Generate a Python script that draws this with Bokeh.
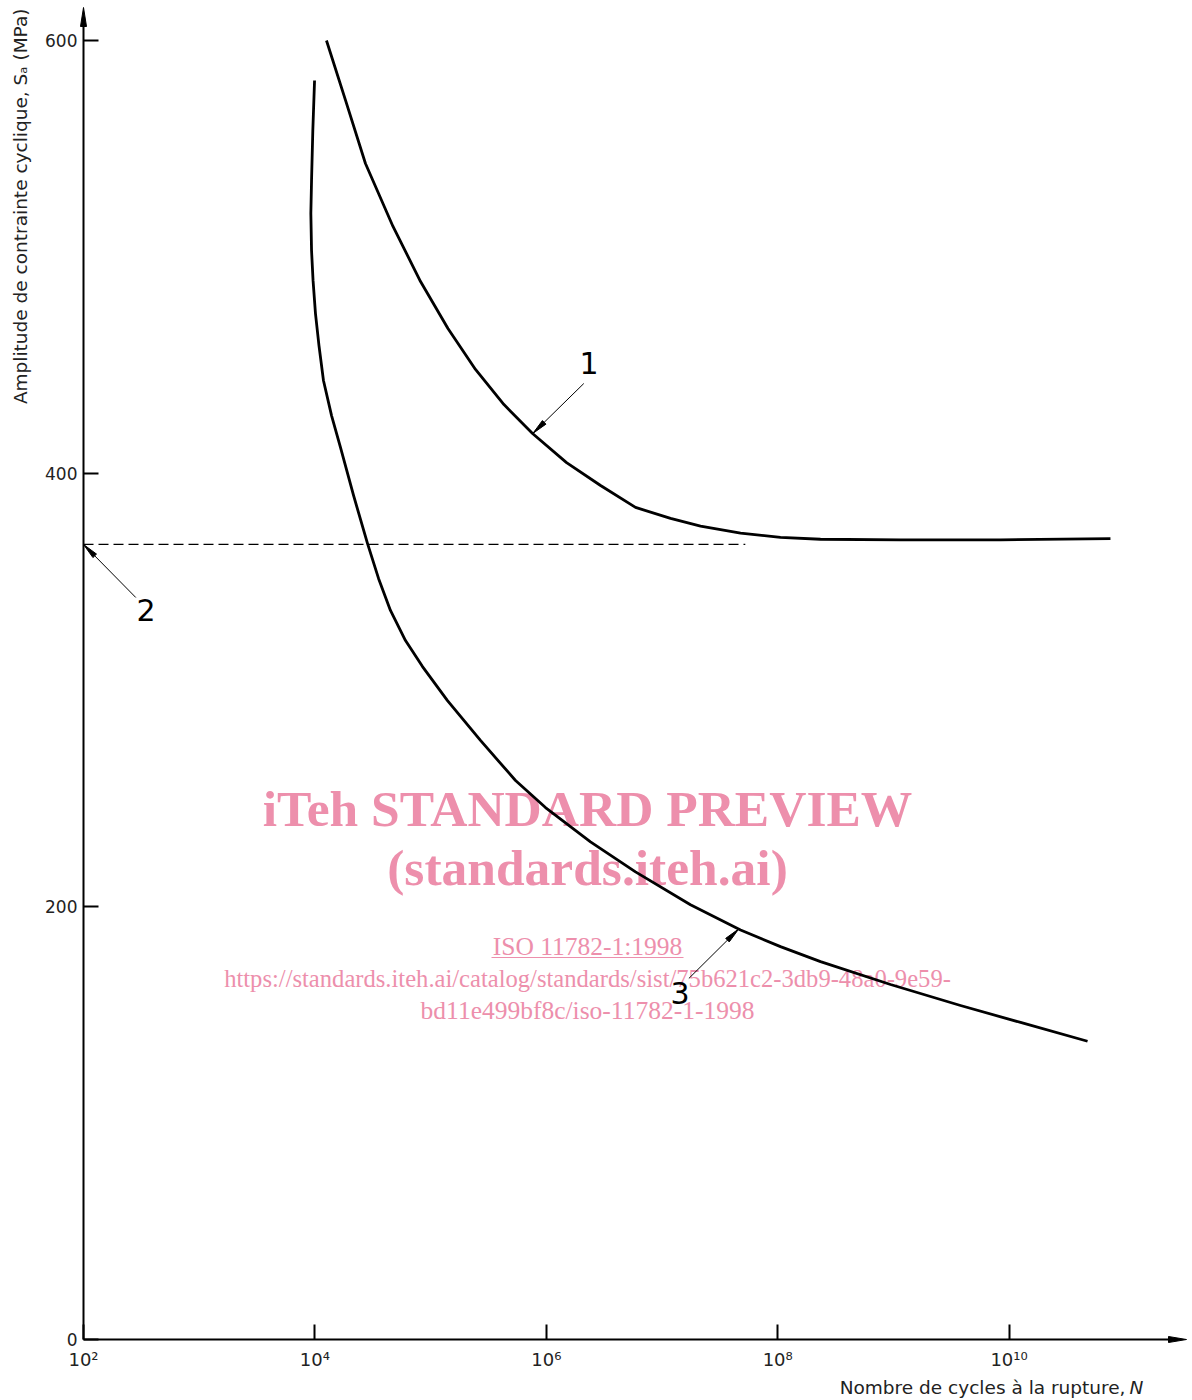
import math
from bokeh.plotting import figure
from bokeh.models import Range1d, FixedTicker, Label
from bokeh.embed import file_html
from bokeh.resources import INLINE

# ---------------- data ----------------
# curve 1 (upper S-N curve): log10(N) and stress amplitude Sa (MPa)
curve1_log_n = [4.100, 4.265, 4.437, 4.675, 4.913, 5.150, 5.388, 5.634, 5.881, 6.175,
                6.469, 6.771, 7.074, 7.333, 7.679, 8.024, 8.370, 9.061, 9.926, 10.876]
curve1_sa = [599.8, 572.1, 543.0, 513.9, 488.5, 466.8, 447.9, 431.7, 418.3, 404.9,
             394.3, 384.2, 379.1, 375.6, 372.3, 370.4, 369.5, 369.2, 369.2, 369.8]

# curve 3 (lower S-N curve)
curve3_log_n = [3.997, 3.982, 3.971, 3.965, 3.971, 3.984, 4.005, 4.035, 4.074, 4.144, 4.221,
                4.334, 4.455, 4.550, 4.653, 4.783, 4.930, 5.146, 5.431, 5.734, 5.993, 6.382,
                6.771, 7.246, 7.679, 8.024, 8.370, 8.975, 9.580, 10.099, 10.678]
curve3_sa = [581.3, 558.2, 535.1, 519.9, 502.8, 489.0, 473.7, 459.0, 442.8, 426.6, 411.9,
             389.7, 367.5, 351.4, 336.6, 322.7, 310.7, 295.0, 276.6, 258.1, 245.6, 229.8,
             215.9, 200.7, 189.1, 181.4, 174.5, 163.9, 154.2, 146.4, 137.7]

# 2: dashed level (endurance limit)
limit_log_n = [2.0, 7.72]
limit_sa = [367.1, 367.1]

# axis ticks
x_tick_exp = [2, 4, 6, 8, 10]
x_tick_labels = ["10²", "10⁴", "10⁶", "10⁸", "10¹⁰"]
y_ticks = [0, 200, 400, 600]

# callouts: label, label position, leader tail, leader tip  (log10 N, Sa)
callout_text = ["1", "2", "3"]
callout_pos = [(6.37, 451.0), (2.54, 336.6), (7.155, 159.8)]
callout_tail = [(6.324, 441.4), (2.452, 342.6), (7.232, 166.7)]
callout_tip = [(5.883, 418.3), (2.0, 367.1), (7.664, 189.6)]

# ---------------- page geometry ----------------
PX_X0, PX_Y0 = 83.0, 1339.0     # canvas position of (1e2, 0)
PX_DEC = 115.7                  # px per decade
PX_UNIT = 2.1658                # px per MPa
W, H = 1192, 1400


def gx(px):
    return 10 ** (2 + (px - PX_X0) / PX_DEC)


def gy(py):
    return (PX_Y0 - py) / PX_UNIT


def to_px(lx, s):
    return PX_X0 + (lx - 2) * PX_DEC, PX_Y0 - s * PX_UNIT


def head(tip_px, tail_px, length, width):
    tx, ty = tip_px
    sx, sy = tail_px
    dx, dy = sx - tx, sy - ty
    d = math.hypot(dx, dy)
    ux, uy = dx / d, dy / d
    bx, by = tx + ux * length, ty + uy * length
    nx, ny = -uy, ux
    pts = [(tx, ty), (bx + nx * width / 2, by + ny * width / 2), (bx - nx * width / 2, by - ny * width / 2)]
    return [gx(p[0]) for p in pts], [gy(p[1]) for p in pts]


p = figure(width=W, height=H, x_axis_type="log",
           x_range=Range1d(gx(0), gx(W)), y_range=Range1d(gy(H), gy(0)),
           output_backend="svg", toolbar_location=None,
           min_border=0, min_border_left=0, min_border_right=0,
           min_border_top=0, min_border_bottom=0)
p.outline_line_color = None
p.grid.visible = False
p.background_fill_color = "white"
p.border_fill_color = "white"

AX_FONT = "DejaVu Sans"
TXT = "#222222"

# axes at fixed location
p.xaxis.fixed_location = 0
p.yaxis.fixed_location = 100
p.xaxis.bounds = (100, gx(1172))
p.yaxis.bounds = (0, gy(22))
for ax in (p.xaxis, p.yaxis):
    ax.axis_line_color = "black"
    ax.axis_line_width = 2
    ax.major_tick_line_color = "black"
    ax.major_tick_line_width = 2
    ax.major_tick_in = 15
    ax.major_tick_out = 0
    ax.minor_tick_line_color = None
    ax.major_label_text_font = AX_FONT
    ax.major_label_text_color = TXT
p.xaxis.ticker = FixedTicker(ticks=[10.0 ** e for e in x_tick_exp])
p.xaxis.major_label_overrides = {10.0 ** e: lab for e, lab in zip(x_tick_exp, x_tick_labels)}
p.xaxis.major_label_text_font_size = "18px"
p.xaxis.major_label_standoff = 9
p.yaxis.ticker = FixedTicker(ticks=y_ticks)
p.yaxis.major_label_text_font_size = "17px"
p.yaxis.major_label_standoff = 6

# axis arrowheads
hx, hy = head((PX_X0, 7), (PX_X0, 100), 19, 6)
p.patch(hx, hy, fill_color="black", line_color="black", line_width=1)
hx, hy = head((1186, PX_Y0), (1000, PX_Y0), 18, 6)
p.patch(hx, hy, fill_color="black", line_color="black", line_width=1)

# watermark (under the curves)
PINK = "#ed8fac"
wm = [
    ("iTeh STANDARD PREVIEW", 587, 808, "51.5px", "bold"),
    ("(standards.iteh.ai)", 587, 867, "51.5px", "bold"),
    ("ISO 11782-1:1998", 587, 946, "25.5px", "normal"),
    ("https://standards.iteh.ai/catalog/standards/sist/75b621c2-3db9-48a0-9e59-", 587, 978, "24.6px", "normal"),
    ("bd11e499bf8c/iso-11782-1-1998", 587, 1010, "25.5px", "normal"),
]
for txt, px, py, sz, st in wm:
    p.add_layout(Label(x=gx(px), y=gy(py), text=txt, text_align="center", text_baseline="middle",
                       text_font="Liberation Serif", text_font_size=sz, text_font_style=st,
                       text_color=PINK, level="underlay"))
p.line([gx(491), gx(683)], [gy(957), gy(957)], line_color=PINK, line_width=1.2, level="underlay")

# dashed limit line
p.line([10 ** v for v in limit_log_n], limit_sa, line_color="black", line_width=1.2, line_dash="10 5")

# curves
p.line([10 ** v for v in curve1_log_n], curve1_sa, line_color="black", line_width=2.8, line_join="round")
p.line([10 ** v for v in curve3_log_n], curve3_sa, line_color="black", line_width=2.8, line_join="round")

# callouts
for t, pos, tail, tip in zip(callout_text, callout_pos, callout_tail, callout_tip):
    p.line([10 ** tail[0], 10 ** tip[0]], [tail[1], tip[1]], line_color="black", line_width=1)
    hx, hy = head(to_px(*tip), to_px(*tail), 16, 5)
    p.patch(hx, hy, fill_color="black", line_color="black", line_width=1)
    p.add_layout(Label(x=10 ** pos[0], y=pos[1], text=t, text_align="center", text_baseline="middle",
                       text_font=AX_FONT, text_font_size="30px", text_color="black"))

# axis titles
p.add_layout(Label(x=gx(20), y=gy(8), text="Amplitude de contrainte cyclique, Sₐ (MPa)",
                   angle=math.pi / 2, text_align="right", text_baseline="middle",
                   text_font=AX_FONT, text_font_size="18.5px", text_color=TXT))
p.add_layout(Label(x=gx(1125), y=gy(1387), text="Nombre de cycles à la rupture,",
                   text_align="right", text_baseline="middle",
                   text_font=AX_FONT, text_font_size="18.5px", text_color=TXT))
p.add_layout(Label(x=gx(1129), y=gy(1387), text="N",
                   text_align="left", text_baseline="middle", text_font_style="italic",
                   text_font=AX_FONT, text_font_size="18.5px", text_color=TXT))

open("out.html", "w").write(file_html(p, INLINE))
